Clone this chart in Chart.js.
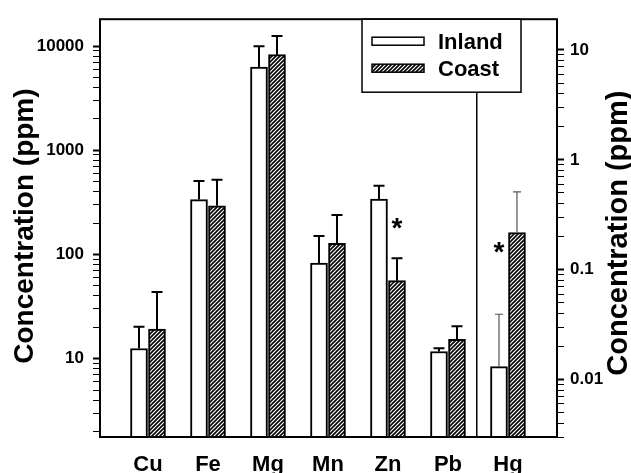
<!DOCTYPE html>
<html>
<head>
<meta charset="utf-8">
<script src="https://cdn.jsdelivr.net/npm/chart.js@4/dist/chart.umd.min.js"></script>
<style>
  html, body { margin: 0; padding: 0; background: #fff; }
  canvas { display: block; }
</style>
</head>
<body>
<canvas id="myChart" width="631" height="473"></canvas>
<script>
const categories = ['Cu', 'Fe', 'Mg', 'Mn', 'Zn', 'Pb', 'Hg'];
// Hg is read on the right hand axis, the rest on the left one
const rightAxisCats = ['Hg'];
const inland = [12.5, 336, 6270, 82.6, 339, 11.7, 0.0131];
const inlandUpper = [20.2, 507, 9930, 150, 457, 12.6, 0.0393];
const coast = [19.2, 293, 8260, 128, 56, 15.3, 0.218];
const coastUpper = [43.5, 521, 12450, 239, 92, 20.5, 0.511];
const leftTicks = [10, 100, 1000, 10000];
const rightTicks = [0.01, 0.1, 1, 10];
// significance marks: [category, series, value]
const stars = [['Zn', 'Coast', 197], ['Hg', 'Inland', 0.16]];
const title = 'Concentration (ppm)';

const font = '"Liberation Sans", Arial, sans-serif';
Chart.defaults.font.family = font;
Chart.defaults.color = '#000';

const ctx = document.getElementById('myChart').getContext('2d');

function hatch() {
  const c = document.createElement('canvas');
  c.width = 4; c.height = 4;
  const g = c.getContext('2d');
  g.fillStyle = '#fff';
  g.fillRect(0, 0, 4, 4);
  g.strokeStyle = '#000';
  g.lineWidth = 1.6;
  g.beginPath();
  g.moveTo(0, 4); g.lineTo(4, 0);
  g.moveTo(-1, 1); g.lineTo(1, -1);
  g.moveTo(3, 5); g.lineTo(5, 3);
  g.stroke();
  return ctx.createPattern(c, 'repeat');
}

const groups = [
  {label: 'Inland', values: inland, upper: inlandUpper, fill: '#fff', shift: -0.15},
  {label: 'Coast', values: coast, upper: coastUpper, fill: hatch(), shift: 0.15}
];

const series = [];
for (const axis of ['y', 'y2']) {
  const idx = categories.map((c, i) => i)
    .filter(i => rightAxisCats.includes(categories[i]) === (axis === 'y2'));
  for (const g of groups) {
    series.push({
      label: g.label,
      cats: idx,
      upper: idx.map(i => g.upper[i]),
      dataset: {
        label: g.label,
        yAxisID: axis,
        data: idx.map(i => ({x: i + g.shift, y: g.values[i]})),
        backgroundColor: g.fill,
        borderColor: '#000',
        borderWidth: 2,
        barThickness: 17,
        maxBarThickness: 17,
        grouped: false
      }
    });
  }
}

function logTicks(scale) {
  const ticks = [];
  const e0 = Math.floor(Math.log10(scale.min));
  const e1 = Math.ceil(Math.log10(scale.max));
  for (let e = e0; e <= e1; e++) {
    for (let k = 1; k < 10; k++) {
      const v = Number((k * Math.pow(10, e)).toPrecision(2));
      if (v >= scale.min && v <= scale.max) ticks.push({value: v, major: k === 1});
    }
  }
  scale.ticks = ticks;
}

const tickGrid = {
  display: true,
  drawOnChartArea: false,
  drawTicks: true,
  tickLength: 7,
  tickColor: '#000',
  tickWidth: c => (c.tick && c.tick.major ? 2 : 1)
};

const extras = {
  id: 'extras',
  afterDatasetsDraw(chart) {
    const {ctx, chartArea: a, scales} = chart;
    ctx.save();

    // divider between the two axis groups
    const xd = scales.x.getPixelForValue(5.48);
    ctx.strokeStyle = '#000';
    ctx.lineWidth = 1.5;
    ctx.beginPath();
    ctx.moveTo(xd, a.top);
    ctx.lineTo(xd, a.bottom);
    ctx.stroke();

    // upper error bars
    series.forEach((s, di) => {
      const meta = chart.getDatasetMeta(di);
      const ys = scales[s.dataset.yAxisID];
      const thin = s.dataset.yAxisID === 'y2';
      ctx.strokeStyle = thin ? '#555' : '#000';
      ctx.lineWidth = thin ? 1.2 : 2;
      const cap = thin ? 4 : 5.5;
      meta.data.forEach((bar, j) => {
        const top = ys.getPixelForValue(s.upper[j]);
        ctx.beginPath();
        ctx.moveTo(bar.x, bar.y);
        ctx.lineTo(bar.x, top);
        ctx.moveTo(bar.x - cap, top);
        ctx.lineTo(bar.x + cap, top);
        ctx.stroke();
      });
    });

    // asterisks
    ctx.fillStyle = '#000';
    ctx.font = 'bold 28px ' + font;
    ctx.textAlign = 'center';
    ctx.textBaseline = 'alphabetic';
    const m = ctx.measureText('*');
    for (const [cat, name, v] of stars) {
      const ci = categories.indexOf(cat);
      const si = series.findIndex(s => s.label === name && s.cats.includes(ci));
      const bar = chart.getDatasetMeta(si).data[series[si].cats.indexOf(ci)];
      const py = scales[series[si].dataset.yAxisID].getPixelForValue(v);
      ctx.fillText('*', bar.x, py + (m.actualBoundingBoxAscent - m.actualBoundingBoxDescent) / 2);
    }

    // frame
    ctx.lineWidth = 2;
    ctx.strokeStyle = '#000';
    ctx.strokeRect(a.left, a.top, a.right - a.left, a.bottom - a.top);

    // legend box
    const lx = a.right - 195, ly = a.top, lw = 159, lh = 73;
    ctx.fillStyle = '#fff';
    ctx.fillRect(lx, ly, lw, lh);
    ctx.lineWidth = 1.5;
    ctx.strokeRect(lx, ly, lw, lh);
    ctx.font = 'bold 22px ' + font;
    ctx.textAlign = 'left';
    groups.forEach((g, k) => {
      const sy = ly + 18 + k * 27;
      ctx.fillStyle = g.fill;
      ctx.fillRect(lx + 10, sy, 52, 8);
      ctx.strokeStyle = '#000';
      ctx.lineWidth = 1.5;
      ctx.strokeRect(lx + 10, sy, 52, 8);
      ctx.fillStyle = '#000';
      ctx.fillText(g.label, lx + 76, sy + 12);
    });

    // axis titles, both read bottom to top
    ctx.textAlign = 'center';
    ctx.font = 'bold 28px ' + font;
    ctx.save();
    ctx.translate(a.left - 67, (a.top + a.bottom) / 2 - 2);
    ctx.rotate(-Math.PI / 2);
    ctx.fillText(title, 0, 0);
    ctx.restore();
    ctx.font = 'bold 29px ' + font;
    ctx.save();
    ctx.translate(a.right + 70, (a.top + a.bottom) / 2 + 5);
    ctx.rotate(-Math.PI / 2);
    ctx.fillText(title, 0, 0);
    ctx.restore();

    ctx.restore();
  }
};

const myChart = new Chart(ctx, {
  type: 'bar',
  data: {datasets: series.map(s => s.dataset)},
  options: {
    responsive: false,
    animation: false,
    devicePixelRatio: 1,
    layout: {padding: {top: 16, left: 0, right: 0, bottom: 0}},
    plugins: {legend: {display: false}, tooltip: {enabled: false}},
    scales: {
      x: {
        type: 'linear',
        offset: false,
        min: -0.8,
        max: 6.817,
        grid: {display: false, drawTicks: false},
        border: {display: false},
        afterBuildTicks: s => { s.ticks = categories.map((c, i) => ({value: i})); },
        afterFit: s => { s.height = 36; },
        ticks: {
          autoSkip: false,
          maxRotation: 0,
          padding: 15,
          font: {size: 22, weight: 'bold'},
          callback: v => categories[v] ?? ''
        }
      },
      y: {
        type: 'logarithmic',
        position: 'left',
        min: 1.77,
        max: 18080,
        grid: tickGrid,
        border: {display: false},
        afterBuildTicks: logTicks,
        afterFit: s => { s.width = 100; },
        ticks: {
          autoSkip: false,
          padding: 9,
          font: {size: 17, weight: 'bold'},
          callback: v => (leftTicks.includes(v) ? String(v) : '')
        }
      },
      y2: {
        type: 'logarithmic',
        position: 'right',
        min: 0.003,
        max: 19.05,
        grid: tickGrid,
        border: {display: false},
        afterBuildTicks: logTicks,
        afterFit: s => { s.width = 74; },
        ticks: {
          autoSkip: false,
          padding: 6,
          font: {size: 17, weight: 'bold'},
          callback: v => (rightTicks.includes(v) ? String(v) : '')
        }
      }
    }
  },
  plugins: [extras]
});
</script>
</body>
</html>
